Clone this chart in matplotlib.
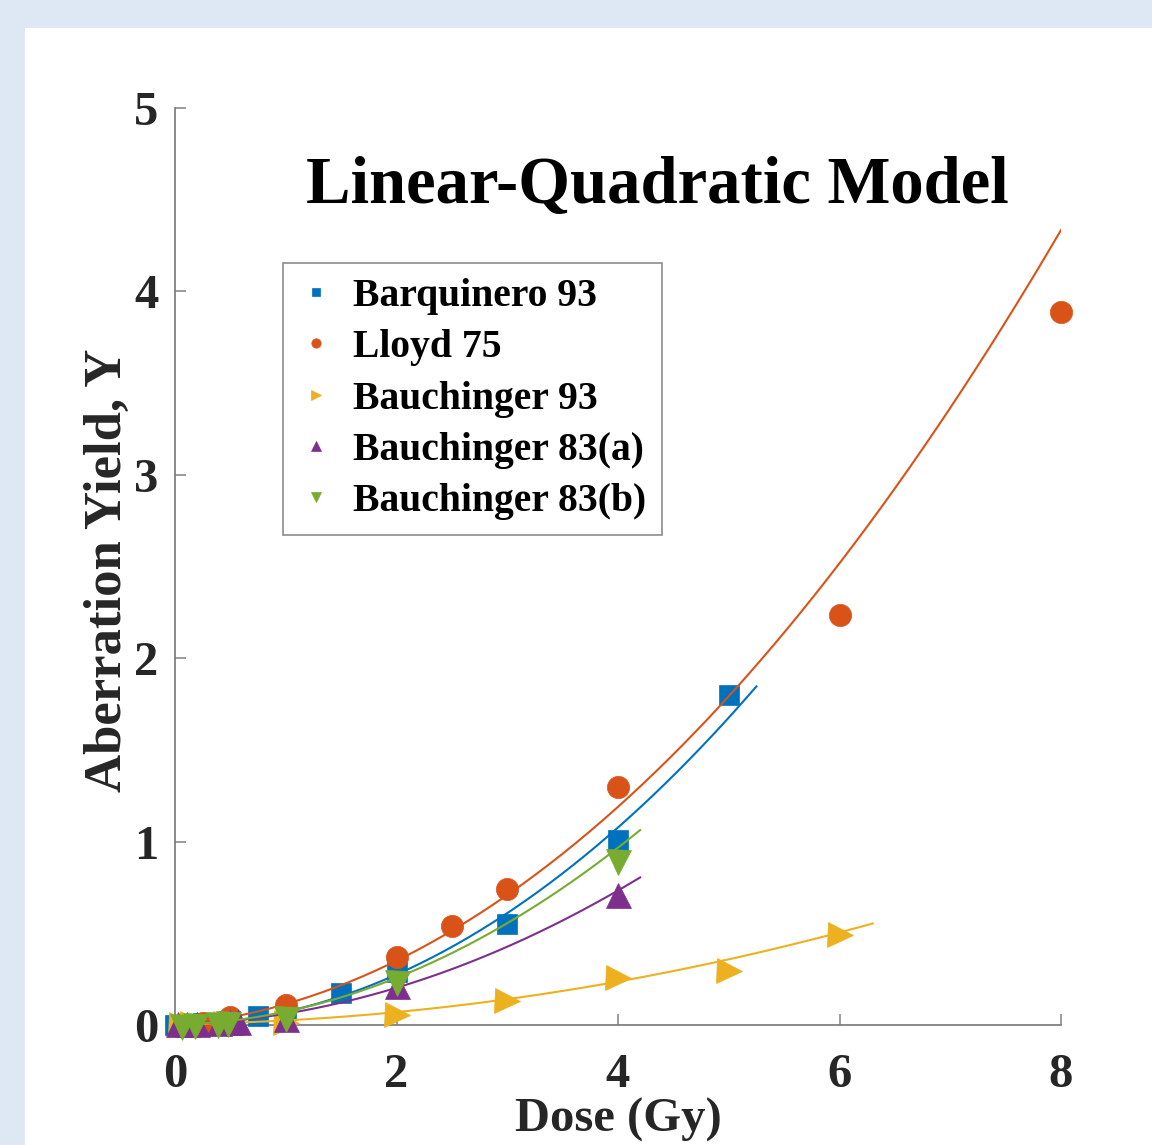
"""Linear-quadratic dose-response curves for dicentric aberration yield."""
import matplotlib
matplotlib.use("Agg")
import matplotlib.pyplot as plt
import numpy as np
from matplotlib.patches import Rectangle

plt.rcParams["font.family"] = ["Liberation Serif", "DejaVu Serif"]
plt.rcParams["font.weight"] = "bold"

# series labels
labels = ["Barquinero 93", "Lloyd 75", "Bauchinger 93",
          "Bauchinger 83(a)", "Bauchinger 83(b)"]

# measured points (dose in Gy, yield)
barq_dose = [0, 0.25, 0.5, 0.75, 1, 1.5, 2, 3, 4, 5]
barq_y = [0.001, 0.01, 0.02, 0.05, 0.08, 0.175, 0.29, 0.55, 1.01, 1.80]
lloyd_dose = [0.05, 0.25, 0.5, 1, 2, 2.5, 3, 4, 6, 8]
lloyd_y = [0.001, 0.01, 0.045, 0.11, 0.37, 0.54, 0.74, 1.30, 2.235, 3.89]
b93_dose = [0.05, 0.15, 0.45, 1, 2, 3, 4, 5, 6]
b93_y = [0.0, 0.003, 0.008, 0.01, 0.055, 0.13, 0.255, 0.295, 0.49]
b83a_dose = [0.03, 0.11, 0.2, 0.4, 0.5, 0.57, 1, 2, 4]
b83a_y = [0.004, 0.006, 0.008, 0.012, 0.016, 0.018, 0.03, 0.21, 0.71]
b83b_dose = [0.06, 0.18, 0.39, 0.48, 1, 2, 4]
b83b_y = [-0.01, -0.008, 0.0, 0.005, 0.03, 0.23, 0.89]

# fitted LQ coefficients Y = c + alpha*D + beta*D^2
fit_c = [0.001, 0.0, 0.005, 0.003, 0.002]
fit_alpha = [0.005, 0.053, 0.0073, 0.0174, 0.014]
fit_beta = [0.066, 0.0611, 0.01266, 0.0413, 0.0568]

doses = [barq_dose, lloyd_dose, b93_dose, b83a_dose, b83b_dose]
yields = [barq_y, lloyd_y, b93_y, b83a_y, b83b_y]
markers = ["s", "o", ">", "^", "v"]
msizes = [14, 16, 18, 18, 18]
colors = ["#0072BD", "#D95319", "#EDB120", "#7E2F8E", "#77AC30"]

W, H = 1152, 1145
fig = plt.figure(figsize=(W / 100, H / 100), dpi=100)
fig.patch.set_facecolor("#dde8f4")
fig.patches.append(Rectangle((25 / W, 0), 1 - 25 / W, 1 - 28 / H,
                             transform=fig.transFigure, facecolor="white",
                             edgecolor="none", zorder=-5))

ax = fig.add_axes([175 / W, 1 - 1025 / H, 886 / W, 917 / H])
ax.set_facecolor("none")

for i in range(len(labels)):
    ax.plot(doses[i], yields[i], linestyle="none", marker=markers[i],
            markersize=msizes[i], color=colors[i], markeredgewidth=0.5,
            label=labels[i], clip_on=False, zorder=3)
    xx = np.linspace(0, min(1.05 * max(doses[i]), 8), 200)
    yy = fit_c[i] + fit_alpha[i] * xx + fit_beta[i] * xx ** 2
    ax.plot(xx, yy, color=colors[i], linewidth=1.5, zorder=3)

ax.set_xlim(0, 8)
ax.set_ylim(0, 5)
ax.set_xticks([0, 2, 4, 6, 8])
ax.set_yticks([0, 1, 2, 3, 4, 5])
for s in ["top", "right"]:
    ax.spines[s].set_visible(False)
for s in ["left", "bottom"]:
    ax.spines[s].set_color("#808080")
    ax.spines[s].set_linewidth(1.3)
ax.tick_params(direction="in", length=8, width=1.1, color="#808080",
               labelsize=35, labelcolor="#262626")
ax.tick_params(axis="x", pad=20)
ax.tick_params(axis="y", pad=12)

fig.text(657 / W, 1 - 203 / H, "Linear-Quadratic Model", fontsize=48,
         fontweight="bold", ha="center", va="baseline", color="black")
fig.text(108 / W, 1 - 570 / H, "Aberration Yield, Y", fontsize=38,
         fontweight="bold", rotation=90, ha="center", va="center",
         color="#262626")
fig.text(618 / W, 1 - 1132 / H, "Dose (Gy)", fontsize=35, fontweight="bold",
         ha="center", va="baseline", color="#262626")

leg = ax.legend(loc="upper left", bbox_to_anchor=(283 / W, 1 - 263 / H),
                bbox_transform=fig.transFigure, borderaxespad=0,
                fontsize=28.5, markerscale=0.42, handlelength=0.9,
                handletextpad=0.5, borderpad=0.38, labelspacing=0.36,
                fancybox=False, framealpha=1, edgecolor="#8c8c8c")
leg.get_frame().set_linewidth(1.2)

fig.savefig("out.png", dpi=100)
